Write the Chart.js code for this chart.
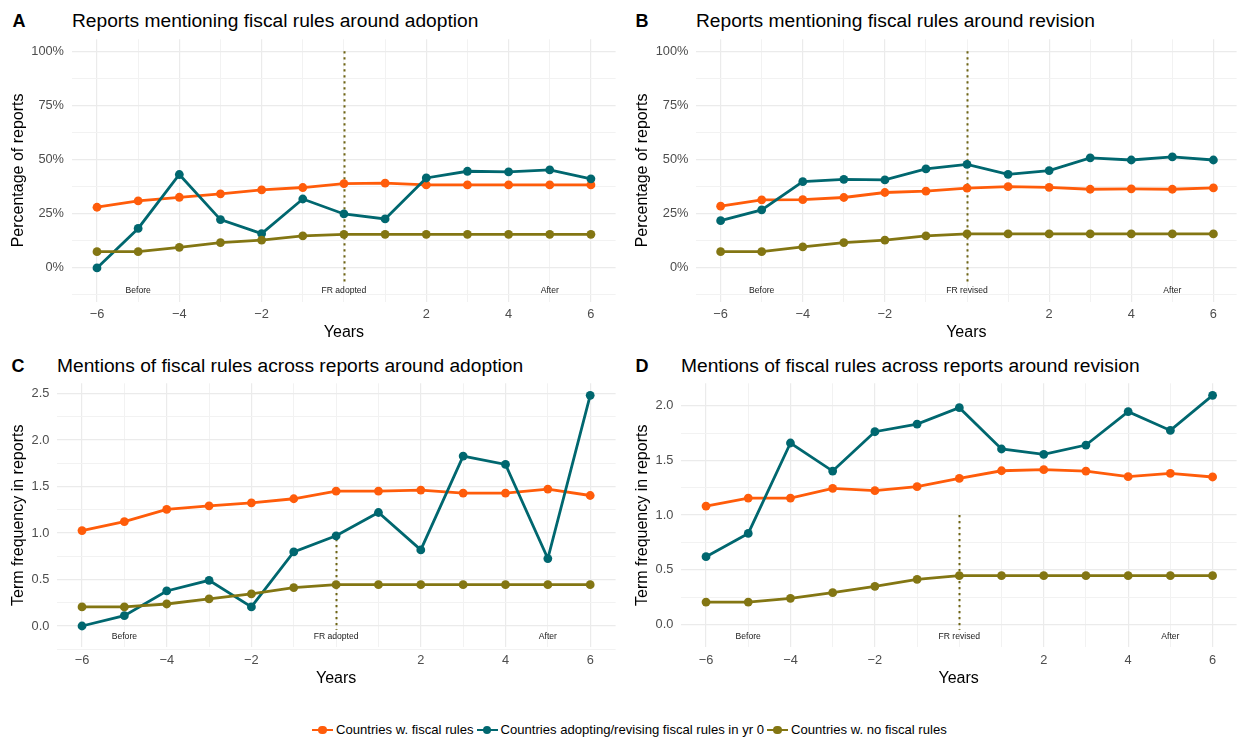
<!DOCTYPE html>
<html>
<head>
<meta charset="utf-8">
<script src="https://cdn.jsdelivr.net/npm/chart.js@4.4.1/dist/chart.umd.min.js"></script>
<style>
html,body{margin:0;padding:0;background:#fff;}
body{width:1241px;height:740px;position:relative;overflow:hidden;font-family:'Liberation Sans',Arial,Helvetica,sans-serif;}
canvas{position:absolute;}
.tag{position:absolute;font-weight:bold;font-size:18px;line-height:22px;color:#000;}
.ttl{position:absolute;font-size:19.2px;line-height:22px;color:#000;white-space:nowrap;}
#legend{position:absolute;left:312px;top:721px;height:18px;display:flex;align-items:center;font-size:13.1px;line-height:18px;color:#000;white-space:nowrap;}
.key{position:relative;width:21px;height:18px;flex:none;}
.key .ln{position:absolute;left:0;right:0;top:7.6px;height:2.8px;}
.key .pt{position:absolute;left:6.2px;top:4.7px;width:8.6px;height:8.6px;border-radius:50%;}
.lab{margin-left:3px;margin-right:3px;}
</style>
</head>
<body>
<div class="tag" style="left:12.5px;top:10px">A</div>
<div class="ttl" style="left:72px;top:10px">Reports mentioning fiscal rules around adoption</div>
<div class="tag" style="left:635.5px;top:10px">B</div>
<div class="ttl" style="left:696px;top:10px">Reports mentioning fiscal rules around revision</div>
<div class="tag" style="left:11.5px;top:355px">C</div>
<div class="ttl" style="left:57px;top:355px">Mentions of fiscal rules across reports around adoption</div>
<div class="tag" style="left:635.5px;top:355px">D</div>
<div class="ttl" style="left:681px;top:355px">Mentions of fiscal rules across reports around revision</div>

<canvas id="panelA" width="620" height="345" style="left:0;top:0"></canvas>
<canvas id="panelB" width="621" height="345" style="left:620px;top:0"></canvas>
<canvas id="panelC" width="620" height="345" style="left:0;top:345px"></canvas>
<canvas id="panelD" width="621" height="345" style="left:620px;top:345px"></canvas>

<div id="legend"></div>

<script>
// Years relative to the adoption / revision of a fiscal rule
const years = [-6, -5, -4, -3, -2, -1, 0, 1, 2, 3, 4, 5, 6];
const yearTicks = [-6, -5, -4, -3, -2, -1, 0, 1, 2, 3, 4, 5, 6];
const yearLabels = [-6, -4, -2, 2, 4, 6];

const seriesNames = [
  'Countries w. fiscal rules',
  'Countries adopting/revising fiscal rules in yr 0',
  'Countries w. no fiscal rules'
];
const seriesColors = ['#FF5C0A', '#00676F', '#837613'];

// A: share of reports mentioning fiscal rules, around adoption
const shareAdoptRules   = [0.280, 0.309, 0.326, 0.342, 0.360, 0.371, 0.389, 0.391, 0.383, 0.383, 0.383, 0.383, 0.383];
const shareAdoptAdopter = [0.000, 0.182, 0.431, 0.223, 0.158, 0.318, 0.249, 0.226, 0.415, 0.446, 0.443, 0.452, 0.411];
const shareAdoptNoRules = [0.075, 0.075, 0.095, 0.117, 0.128, 0.148, 0.155, 0.155, 0.155, 0.155, 0.155, 0.155, 0.155];

// B: share of reports mentioning fiscal rules, around revision
const shareRevRules   = [0.285, 0.314, 0.315, 0.325, 0.348, 0.354, 0.368, 0.375, 0.372, 0.363, 0.365, 0.363, 0.369];
const shareRevReviser = [0.218, 0.268, 0.398, 0.409, 0.406, 0.457, 0.478, 0.432, 0.449, 0.508, 0.498, 0.512, 0.498];
const shareRevNoRules = [0.075, 0.075, 0.097, 0.117, 0.128, 0.148, 0.157, 0.157, 0.157, 0.157, 0.157, 0.157, 0.157];

// C: term frequency in reports, around adoption
const freqAdoptRules   = [1.027, 1.124, 1.254, 1.293, 1.325, 1.369, 1.451, 1.451, 1.462, 1.430, 1.430, 1.473, 1.404];
const freqAdoptAdopter = [0.000, 0.111, 0.377, 0.492, 0.205, 0.797, 0.970, 1.221, 0.819, 1.828, 1.738, 0.726, 2.482];
const freqAdoptNoRules = [0.205, 0.205, 0.237, 0.291, 0.345, 0.413, 0.445, 0.445, 0.445, 0.445, 0.445, 0.445, 0.445];

// D: term frequency in reports, around revision
const freqRevRules   = [1.082, 1.155, 1.155, 1.244, 1.223, 1.259, 1.335, 1.405, 1.415, 1.402, 1.351, 1.381, 1.348];
const freqRevReviser = [0.619, 0.832, 1.659, 1.402, 1.762, 1.832, 1.982, 1.604, 1.555, 1.640, 1.945, 1.774, 2.095];
const freqRevNoRules = [0.204, 0.204, 0.238, 0.290, 0.348, 0.412, 0.445, 0.445, 0.445, 0.445, 0.445, 0.445, 0.445];

// Axis ticks
const shareTicks = [-0.125, 0, 0.125, 0.25, 0.375, 0.5, 0.625, 0.75, 0.875, 1];
const shareTickLabels = [0, 0.25, 0.5, 0.75, 1];
const freqTicksC = [-0.25, 0, 0.25, 0.5, 0.75, 1, 1.25, 1.5, 1.75, 2, 2.25, 2.5];
const freqTicksD = [0, 0.25, 0.5, 0.75, 1, 1.25, 1.5, 1.75, 2];
const freqTickLabels = [0, 0.5, 1, 1.5, 2, 2.5];

// Period annotations
const phaseX = [-5, 0, 5];
const phaseY = -0.1;
const phaseAdoption = ['Before', 'FR adopted', 'After'];
const phaseRevision = ['Before', 'FR revised', 'After'];
const markerTop = 1;

Chart.defaults.font.family = "'Liberation Sans', Arial, Helvetica, sans-serif";
Chart.defaults.devicePixelRatio = 1;

const GRID = '#EBEBEB';
const GRID_MINOR = '#F2F2F2';
const near = (a, b) => Math.abs(a - b) < 1e-9;

// Vertical event line at year 0 plus the Before / event / After labels
const periodMarks = {
  id: 'periodMarks',
  beforeDatasetsDraw(chart, args, opts) {
    const {ctx, scales: {x, y}} = chart;
    const px = Math.round(x.getPixelForValue(0)) + 0.5;
    ctx.save();
    ctx.strokeStyle = '#6E6414';
    ctx.lineWidth = 2;
    ctx.setLineDash([2.2, 3.8]);
    ctx.beginPath();
    ctx.moveTo(px, y.getPixelForValue(markerTop));
    ctx.lineTo(px, y.getPixelForValue(phaseY) - 5.5);
    ctx.stroke();
    ctx.restore();
  },
  afterDatasetsDraw(chart, args, opts) {
    const {ctx, scales: {x, y}} = chart;
    ctx.save();
    ctx.fillStyle = '#1a1a1a';
    ctx.font = "8.6px 'Liberation Sans', Arial, sans-serif";
    ctx.textAlign = 'center';
    ctx.textBaseline = 'middle';
    phaseX.forEach((v, i) => {
      ctx.fillText(opts.labels[i], x.getPixelForValue(v), y.getPixelForValue(phaseY) + 1.5);
    });
    ctx.restore();
  }
};

function makePanel(id, g) {
  const datasets = g.series.map((vals, i) => ({
    label: seriesNames[i],
    data: years.map((yr, k) => ({x: yr, y: vals[k]})),
    borderColor: seriesColors[i],
    backgroundColor: seriesColors[i],
    pointBackgroundColor: seriesColors[i],
    pointBorderColor: seriesColors[i],
    pointBorderWidth: 0,
    pointRadius: 4.4,
    pointHoverRadius: 4.4,
    borderWidth: 2.8,
    tension: 0,
    order: 2 - i
  }));
  return new Chart(document.getElementById(id), {
    type: 'line',
    data: {datasets},
    plugins: [periodMarks],
    options: {
      responsive: false,
      animation: false,
      layout: {padding: {top: g.top, right: 0, bottom: 0, left: 0}},
      plugins: {
        legend: {display: false},
        tooltip: {enabled: false},
        periodMarks: {labels: g.phase}
      },
      scales: {
        x: {
          type: 'linear',
          min: -6.6,
          max: g.xMax,
          afterBuildTicks: s => { s.ticks = yearTicks.map(v => ({value: v})); },
          afterFit: s => { s.height = g.xHeight; },
          border: {display: false},
          grid: {
            drawTicks: false,
            color: c => (yearLabels.includes(c.tick.value) ? GRID : GRID_MINOR),
            lineWidth: c => (yearLabels.includes(c.tick.value) ? 1.2 : 1)
          },
          ticks: {
            autoSkip: false,
            maxRotation: 0,
            padding: g.xPad,
            color: '#4D4D4D',
            font: {size: 12.8},
            callback: v => (yearLabels.includes(v) ? (v < 0 ? '\u2212' + Math.abs(v) : String(v)) : '')
          },
          title: {
            display: true,
            text: 'Years',
            color: '#000',
            font: {size: 16},
            padding: {top: 0, bottom: g.xTitlePad}
          }
        },
        y: {
          type: 'linear',
          min: g.yMin,
          max: g.yMax,
          afterBuildTicks: s => { s.ticks = g.yTicks.map(v => ({value: v})); },
          afterFit: s => { s.width = g.yWidth; },
          border: {display: false},
          grid: {
            drawTicks: false,
            color: c => (g.yLabels.some(v => near(v, c.tick.value)) ? GRID : GRID_MINOR),
            lineWidth: c => (g.yLabels.some(v => near(v, c.tick.value)) ? 1.2 : 1)
          },
          ticks: {
            autoSkip: false,
            padding: g.yPad,
            color: '#4D4D4D',
            font: {size: 12.8},
            callback: v => (g.yLabels.some(t => near(t, v)) ? g.fmt(v) : '')
          },
          title: {
            display: true,
            text: g.yTitle,
            color: '#000',
            font: {size: 16},
            padding: {top: g.yTitlePad, bottom: 0}
          }
        }
      }
    }
  });
}

const pct = v => Math.round(v * 100) + '%';
const dec = v => v.toFixed(1);

makePanel('panelA', {
  series: [shareAdoptRules, shareAdoptAdopter, shareAdoptNoRules],
  phase: phaseAdoption,
  top: 39.3, xHeight: 43.5, yWidth: 72.3, xMax: 6.6,
  yMin: -0.155, yMax: 1.055, yTicks: shareTicks, yLabels: shareTickLabels, fmt: pct,
  yTitle: 'Percentage of reports', yTitlePad: 8.7, yPad: 8.3, xPad: 5.6, xTitlePad: 2.6
});
makePanel('panelB', {
  series: [shareRevRules, shareRevReviser, shareRevNoRules],
  phase: phaseRevision,
  top: 39.3, xHeight: 43.5, yWidth: 76, xMax: 6.565,
  yMin: -0.155, yMax: 1.055, yTicks: shareTicks, yLabels: shareTickLabels, fmt: pct,
  yTitle: 'Percentage of reports', yTitlePad: 12.6, yPad: 7.6, xPad: 5.6, xTitlePad: 2.6
});
makePanel('panelC', {
  series: [freqAdoptRules, freqAdoptAdopter, freqAdoptNoRules],
  phase: phaseAdoption,
  top: 38.3, xHeight: 42.7, yWidth: 56.6, xMax: 6.6,
  yMin: -0.229, yMax: 2.611, yTicks: freqTicksC, yLabels: freqTickLabels, fmt: dec,
  yTitle: 'Term frequency in reports', yTitlePad: 8.7, yPad: 7.2, xPad: 5.5, xTitlePad: 1.6
});
makePanel('panelD', {
  series: [freqRevRules, freqRevReviser, freqRevNoRules],
  phase: phaseRevision,
  top: 38.3, xHeight: 42.7, yWidth: 60.7, xMax: 6.569,
  yMin: -0.21, yMax: 2.205, yTicks: freqTicksD, yLabels: freqTickLabels, fmt: dec,
  yTitle: 'Term frequency in reports', yTitlePad: 12.6, yPad: 7.3, xPad: 5.5, xTitlePad: 1.6
});

// Shared legend below the panels
const legend = document.getElementById('legend');
seriesNames.forEach((name, i) => {
  const key = document.createElement('div');
  key.className = 'key';
  key.innerHTML = '<div class="ln" style="background:' + seriesColors[i] + '"></div>' +
                  '<div class="pt" style="background:' + seriesColors[i] + '"></div>';
  const lab = document.createElement('span');
  lab.className = 'lab';
  lab.textContent = name;
  legend.appendChild(key);
  legend.appendChild(lab);
});
</script>
</body>
</html>
